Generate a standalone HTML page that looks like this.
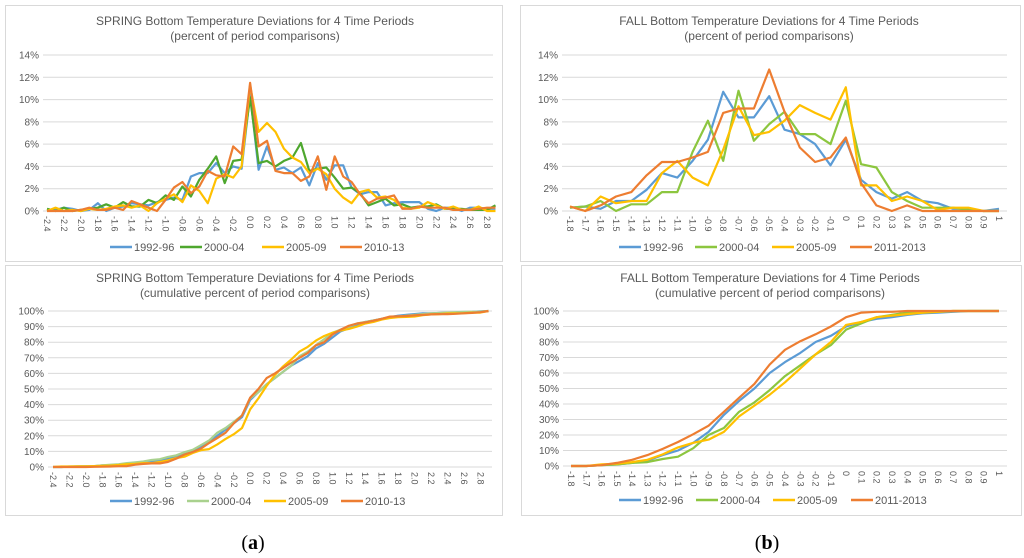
<!DOCTYPE html>
<html><head><meta charset="utf-8"><style>
html,body{margin:0;padding:0;background:#fff;}
svg{display:block;font-family:"Liberation Sans",sans-serif;}
</style></head><body>
<svg id="fig" width="1024" height="558" viewBox="0 0 1024 558" xmlns="http://www.w3.org/2000/svg">
<rect width="1024" height="558" fill="#fff"/>
<text x="253" y="549" text-anchor="middle" font-family="Liberation Serif,serif" font-size="20" fill="#000">(<tspan font-weight="bold">a</tspan>)</text>
<text x="767" y="549" text-anchor="middle" font-family="Liberation Serif,serif" font-size="20" fill="#000">(<tspan font-weight="bold">b</tspan>)</text>
</svg>
<script>
// ---------- data ----------
const springCats = ["-2.4","-2.3","-2.2","-2.1","-2.0","-1.9","-1.8","-1.7","-1.6","-1.5","-1.4","-1.3","-1.2","-1.1","-1.0","-0.9","-0.8","-0.7","-0.6","-0.5","-0.4","-0.3","-0.2","-0.1","0.0","0.1","0.2","0.3","0.4","0.5","0.6","0.7","0.8","0.9","1.0","1.1","1.2","1.3","1.4","1.5","1.6","1.7","1.8","1.9","2.0","2.1","2.2","2.3","2.4","2.5","2.6","2.7","2.8","2.9"];
const springFreq1992 = [0.1,0.1,0.3,0.2,0,0.1,0.7,0,0.3,0.4,0.7,0.6,0.5,0.8,1.0,1.2,1.0,3.1,3.4,3.4,4.3,3.4,4.0,3.8,10.5,3.7,5.8,3.7,3.9,3.4,3.9,2.3,4.3,2.8,4.1,4.1,2.1,1.5,1.7,1.7,0.5,0.7,0.8,0.8,0.8,0.2,0,0.3,0.3,0,0.3,0.3,0.2,0.2];
const springFreq2000 = [0.2,0,0.3,0,0.1,0.2,0.3,0.6,0.3,0.8,0.4,0.4,1.0,0.7,1.4,1.0,2.2,1.3,2.8,3.8,4.9,2.5,4.5,4.6,10.2,4.3,4.5,4.0,4.5,4.8,6.1,3.6,3.8,3.9,3.0,2.0,2.1,1.6,0.5,0.8,1.1,0.5,0.6,0.3,0.4,0.4,0.6,0.2,0.2,0.2,0.1,0.1,0.1,0.5];
const springFreq2005 = [0,0.3,0,0.1,0,0.2,0.1,0.2,0.4,0.5,0.3,0.5,0,0.7,1.1,1.5,0.8,2.3,1.8,0.7,2.9,3.3,3.0,4.0,11.3,7.1,7.9,7.1,5.6,4.8,4.4,3.4,3.8,3.3,2.0,1.2,0.7,1.7,1.9,1.2,1.3,1.0,0.3,0.2,0.3,0.8,0.5,0.2,0.4,0.1,0.1,0.4,0,0];
const springFreq2010 = [0,0,0,0,0.1,0.3,0.1,0.1,0.3,0.1,0.9,0.6,0.3,0,1.0,2.1,2.6,1.6,2.2,3.6,3.2,3.1,5.8,5.1,11.5,5.8,6.3,3.6,3.4,3.4,2.7,3.1,4.9,1.9,4.9,3.1,2.6,1.5,0.7,1.1,1.2,1.4,0.2,0.2,0.4,0.3,0.3,0.3,0.1,0.1,0.1,0.2,0.3,0.3];
const springCum1992 = [0,0,0.2,0.3,0.4,0.5,1,1,1.5,2,2.5,3,3.5,4.5,5.5,7,8.5,10,13,16,20,24,28,32,43,48,53,57,61,65,68,71,76,79,83,87,89,91,93,94,95,96,97,97.5,98,98.5,98.5,98.7,99,99,99.3,99.5,99.8,100];
const springCum2000 = [0,0,0.3,0.4,0.5,0.6,1,1.5,1.8,2.5,3,3.5,4.5,5,6.5,7.5,9.5,11,14,17,22,25,29,33,44,48,53,57,61,65,71,74,78,82,86,88,90,92,93,94,95,96,96.5,97,97.5,98,98.5,98.7,99,99.2,99.4,99.5,99.6,100];
const springCum2005 = [0,0.3,0.3,0.4,0.4,0.6,0.7,0.9,1.3,1.8,2,2.5,2.5,3.2,4.3,5.8,6.6,9,10.8,11.5,14.5,18,21,25,37,44,52,59,64.5,69,74,77,81,84,86,87.5,88.5,90,92,93,94.5,95.5,96,96.2,96.5,97.3,97.8,98,98.4,98.5,98.6,99,99,100];
const springCum2010 = [0,0,0,0,0,0.1,0.2,0.3,0.5,0.6,1.5,2,2.3,2.3,3.3,5.4,8,9.6,11.8,15.4,18.6,22,28,33,44.5,50,57,60,63.5,67,70,73,78,80,85,88,90.5,92,92.7,93.8,95,96.4,96.6,96.8,97.2,97.5,97.8,98,98,98.2,98.5,98.8,99.2,100];

const fallCats = ["-1.8","-1.7","-1.6","-1.5","-1.4","-1.3","-1.2","-1.1","-1.0","-0.9","-0.8","-0.7","-0.6","-0.5","-0.4","-0.3","-0.2","-0.1","0","0.1","0.2","0.3","0.4","0.5","0.6","0.7","0.8","0.9","1"];
const fallFreq1992 = [0.3,0.4,0.2,0.9,0.9,1.9,3.4,3.0,4.5,6.4,10.7,8.4,8.4,10.3,7.3,6.9,6.0,4.1,6.4,2.8,1.7,1.1,1.7,0.9,0.7,0.2,0.2,0,0.2];
const fallFreq2000 = [0.3,0.4,0.9,0,0.6,0.6,1.7,1.7,5.3,8.1,4.5,10.8,6.3,7.8,8.9,6.9,6.9,6.0,9.9,4.2,3.9,1.7,0.9,0.3,0.3,0.3,0.1,0,0];
const fallFreq2005 = [0.4,0,1.3,0.7,0.9,0.9,3.4,4.5,3.0,2.3,5.5,9.4,6.8,7.1,8.1,9.5,8.8,8.2,11.1,2.3,2.3,0.9,1.3,0.9,0.1,0.3,0.3,0,0];
const fallFreq2011 = [0.4,0,0.5,1.3,1.7,3.2,4.4,4.4,4.8,5.3,8.8,9.2,9.2,12.7,8.9,5.7,4.4,4.8,6.6,2.5,0.5,0,0.5,0,0,0,0,0,0];
const fallCum1992 = [0,0,0.5,1,2,3.5,7,10,15,22,33,42,50,60,67,73,80,84,90,93,95,96,97.5,98.5,99,99.5,100,100,100];
const fallCum2000 = [0,0,0.5,1,2,2.5,4.5,6,11.5,20,24.5,35,41,49,58,65,72,78,88,92,96,97.5,99,99,99.5,100,100,100,100];
const fallCum2005 = [0,0,1,1.5,2.5,4,7.5,12,15,17,22,32,39,46,54,63,72,80,91,93,96,97,98,99,99.5,100,100,100,100];
const fallCum2011 = [0,0,0.5,2,4,7,11,15.5,20.5,26,35,44,53,65.5,75,80.5,85,90,96,99,99.5,99.5,100,100,100,100,100,100,100];

const freqTicks = [0,2,4,6,8,10,12,14];
const freqTickLabels = ["0%","2%","4%","6%","8%","10%","12%","14%"];
const cumTicks = [0,10,20,30,40,50,60,70,80,90,100];
const cumTickLabels = ["0%","10%","20%","30%","40%","50%","60%","70%","80%","90%","100%"];

// ---------- drawing ----------
const NS = "http://www.w3.org/2000/svg";
const svg = document.getElementById('fig');
function mk(tag, attrs, parent){
  const e = document.createElementNS(NS, tag);
  for (const k in attrs) e.setAttribute(k, attrs[k]);
  (parent||svg).appendChild(e);
  return e;
}
const BLUE="#5b9bd5", YEL="#ffc000", ORA="#ed7d31";

function chart(cfg){
  const g = mk('g', {});
  
  
  const box = mk('rect', {x:cfg.box[0], y:cfg.box[1], width:cfg.box[2], height:cfg.box[3], fill:'#fff', stroke:'#d9d9d9', 'stroke-width':1}, g);
  
  
  const t1 = mk('text', {x:cfg.tx, y:cfg.ty, 'text-anchor':'middle', 'font-size':12, fill:'#595959'}, g);
  t1.textContent = cfg.title1;
  
  
  const t2 = mk('text', {x:cfg.tx, y:cfg.ty+15, 'text-anchor':'middle', 'font-size':12, fill:'#595959'}, g);
  t2.textContent = cfg.title2;
  
  
  const n = cfg.cats.length;
  const xs = i => cfg.xFirst + (cfg.xLast - cfg.xFirst) * i / (n - 1);
  const ys = v => cfg.yBottom - (cfg.yBottom - cfg.yTop) * v / cfg.yMax;
  cfg.ticks.forEach((t, i) => {
    const ln = mk('line', {x1:cfg.gx0, x2:cfg.gx1, y1:ys(t), y2:ys(t), stroke:'#d9d9d9', 'stroke-width':1}, g);
    
    
    const tl = mk('text', {x:cfg.gx0-4, y:ys(t)+3.5, 'text-anchor':'end', 'font-size':10, fill:'#595959'}, g);
    tl.textContent = cfg.tickLabels[i];
    
    
  });
  cfg.cats.forEach((c, i) => {
    if (i % cfg.every !== 0) return;
    const x = xs(i);
    const tl = mk('text', {x:0, y:0, 'font-size':9, fill:'#595959', transform:`translate(${x-3},${cfg.yBottom+5}) rotate(90)`}, g);
    tl.textContent = c;
    
    
  });
  cfg.series.forEach(s => {
    const pts = s.values.map((v, i) => xs(i).toFixed(1) + ',' + ys(v).toFixed(1)).join(' ');
    const pl = mk('polyline', {points:pts, fill:'none', stroke:s.color, 'stroke-width':2.2, 'stroke-linejoin':'round'}, g);
    
    
  });
  cfg.series.forEach((s, i) => {
    const lx = cfg.legX[i];
    const lg = mk('g', {}, g);
    
    
    mk('line', {x1:lx, x2:lx+22, y1:cfg.legY, y2:cfg.legY, stroke:s.color, 'stroke-width':2.5}, lg);
    const lt = mk('text', {x:lx+24, y:cfg.legY+4, 'font-size':11, fill:'#595959'}, lg);
    lt.textContent = s.label;
  });
}

chart({name:'spring-frequency-chart', box:[5.5,5.5,497,256], tx:255, ty:25,
  title1:'SPRING Bottom Temperature Deviations for 4 Time Periods', title2:'(percent of period comparisons)',
  cats:springCats, xFirst:47, xLast:495.5, yBottom:211, yTop:55, yMax:14, gx0:43, gx1:493, every:2,
  ticks:freqTicks, tickLabels:freqTickLabels, legY:247, legX:[110,180,262,340],
  series:[{label:'1992-96',color:BLUE,values:springFreq1992},{label:'2000-04',color:'#4ea72e',values:springFreq2000},
          {label:'2005-09',color:YEL,values:springFreq2005},{label:'2010-13',color:ORA,values:springFreq2010}]});
chart({name:'fall-frequency-chart', box:[520.5,5.5,500,256], tx:769, ty:25,
  title1:'FALL Bottom Temperature Deviations for 4 Time Periods', title2:'(percent of period comparisons)',
  cats:fallCats, xFirst:570, xLast:999, yBottom:211, yTop:55, yMax:14, gx0:562, gx1:1007, every:1,
  ticks:freqTicks, tickLabels:freqTickLabels, legY:247, legX:[619,695,772,850],
  series:[{label:'1992-96',color:BLUE,values:fallFreq1992},{label:'2000-04',color:'#8cc63f',values:fallFreq2000},
          {label:'2005-09',color:YEL,values:fallFreq2005},{label:'2011-2013',color:ORA,values:fallFreq2011}]});
chart({name:'spring-cumulative-chart', box:[5.5,265.5,497,250], tx:255, ty:282,
  title1:'SPRING Bottom Temperature Deviations for 4 Time Periods', title2:'(cumulative percent of period comparisons)',
  cats:springCats, xFirst:53, xLast:488.5, yBottom:467, yTop:311, yMax:100, gx0:48, gx1:492, every:2,
  ticks:cumTicks, tickLabels:cumTickLabels, legY:501, legX:[110,187,264,341],
  series:[{label:'1992-96',color:BLUE,values:springCum1992},{label:'2000-04',color:'#a9d18e',values:springCum2000},
          {label:'2005-09',color:YEL,values:springCum2005},{label:'2010-13',color:ORA,values:springCum2010}]});
chart({name:'fall-cumulative-chart', box:[521.5,265.5,500,250], tx:770, ty:282,
  title1:'FALL Bottom Temperature Deviations for 4 Time Periods', title2:'(cumulative percent of period comparisons)',
  cats:fallCats, xFirst:571, xLast:999, yBottom:466, yTop:311, yMax:100, gx0:563, gx1:1007, every:1,
  ticks:cumTicks, tickLabels:cumTickLabels, legY:500, legX:[619,696,773,851],
  series:[{label:'1992-96',color:BLUE,values:fallCum1992},{label:'2000-04',color:'#8cc63f',values:fallCum2000},
          {label:'2005-09',color:YEL,values:fallCum2005},{label:'2011-2013',color:ORA,values:fallCum2011}]});
</script>
</body></html>
